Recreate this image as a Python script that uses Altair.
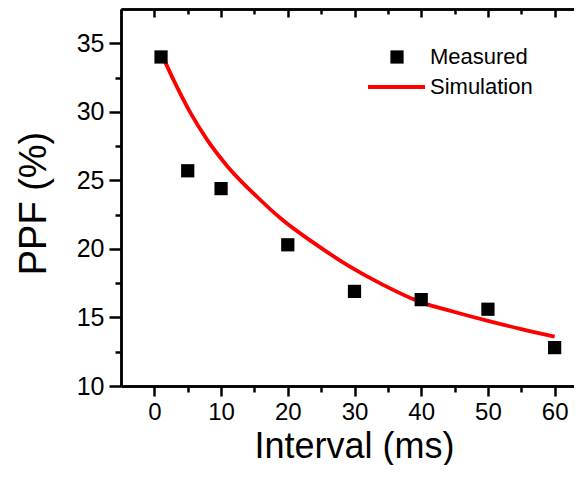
import altair as alt
import pandas as pd

# ---- data ----
interval_ms = [1, 5, 10, 20, 30, 40, 50, 60]
ppf_measured = [34.0, 25.7, 24.4, 20.3, 16.9, 16.3, 15.6, 12.8]

sim_interval = [1, 3, 5.5, 8, 11, 15.5, 19, 24, 29, 34, 40, 45, 50, 55, 60]
sim_ppf = [34.3, 32.2, 29.85, 27.9, 26.0, 23.75, 22.2, 20.4, 18.8, 17.45,
           16.1, 15.4, 14.75, 14.15, 13.6]

x_major = [0, 10, 20, 30, 40, 50, 60]
x_minor = [5, 15, 25, 35, 45, 55]
y_major = [10, 15, 20, 25, 30, 35]
y_minor = [12.5, 17.5, 22.5, 27.5, 32.5]

legend_labels = ["Measured", "Simulation"]
x_title = "Interval (ms)"
y_title = "PPF (%)"

W, H = 467, 377
FONT = "Liberation Sans"

meas = pd.DataFrame({"Interval": interval_ms, "PPF": ppf_measured})
sim = pd.DataFrame({"Interval": sim_interval, "PPF": sim_ppf})

xscale = alt.Scale(domain=[-5, 65], nice=False, zero=False)
yscale = alt.Scale(domain=[10, 37.5], nice=False, zero=False)

common = dict(grid=False, domainColor="black", domainWidth=2.5,
              tickColor="black", tickWidth=2.5)


def axis(values, orient, tick, labels=False, offset=0, **kw):
    return alt.Axis(values=values, orient=orient, tickSize=tick, labels=labels,
                    offset=offset, **common, **kw)


# Measured points with main (labelled) axes
points = alt.Chart(meas).mark_square(size=175, color="black", opacity=1).encode(
    x=alt.X("Interval:Q", scale=xscale,
            axis=axis(x_major, "bottom", 10, labels=True, labelPadding=4,
                      labelFont=FONT, labelFontSize=24, labelColor="black",
                      title=x_title, titleFont=FONT, titleFontSize=36,
                      titleFontWeight="normal", titleColor="black",
                      titleBaseline="alphabetic", titleAlign="center",
                      titleX=233, titleY=71)),
    y=alt.Y("PPF:Q", scale=yscale,
            axis=axis(y_major, "left", 12, labels=True, labelPadding=5,
                      labelFont=FONT, labelFontSize=25, labelColor="black",
                      title=y_title, titleFont=FONT, titleFontSize=38,
                      titleFontWeight="normal", titleColor="black",
                      titleAngle=270, titleBaseline="alphabetic",
                      titleAlign="center", titleX=-76, titleY=194)),
)

# Simulation line with minor ticks on bottom / left
line = alt.Chart(sim).mark_line(color="#ff0000", strokeWidth=3.8,
                                interpolate="monotone").encode(
    x=alt.X("Interval:Q", scale=xscale, title=None,
            axis=axis(x_minor, "bottom", 6)),
    y=alt.Y("PPF:Q", scale=yscale, title=None,
            axis=axis(y_minor, "left", 6)),
)

# Mirror axes (top / right) with inward ticks
mirror_major = alt.Chart(meas).mark_point(opacity=0).encode(
    x=alt.X("Interval:Q", scale=xscale, title=None,
            axis=axis(x_major, "bottom", 8, offset=-H)),
    y=alt.Y("PPF:Q", scale=yscale, title=None,
            axis=axis(y_major, "left", 12, offset=-W)),
)
mirror_minor = alt.Chart(meas).mark_point(opacity=0).encode(
    x=alt.X("Interval:Q", scale=xscale, title=None,
            axis=axis(x_minor, "bottom", 5, offset=-H)),
    y=alt.Y("PPF:Q", scale=yscale, title=None,
            axis=axis(y_minor, "left", 6, offset=-W)),
)

# Legend (manual)
leg_df = pd.DataFrame({"label": legend_labels})
leg_sq = alt.Chart(leg_df.iloc[[0]]).mark_square(size=175, color="black", opacity=1).encode(
    x=alt.value(276), y=alt.value(48))
leg_line = alt.Chart(leg_df.iloc[[1]]).mark_rule(color="#ff0000", strokeWidth=4).encode(
    x=alt.value(247), x2=alt.value(304), y=alt.value(78))
leg_t1 = alt.Chart(leg_df.iloc[[0]]).mark_text(
    align="left", baseline="middle", font=FONT, fontSize=22, color="black").encode(
    x=alt.value(309), y=alt.value(48), text="label:N")
leg_t2 = alt.Chart(leg_df.iloc[[1]]).mark_text(
    align="left", baseline="middle", font=FONT, fontSize=22, color="black").encode(
    x=alt.value(309), y=alt.value(78), text="label:N")

chart = alt.layer(
    mirror_major, mirror_minor, line, points, leg_line, leg_sq, leg_t1, leg_t2
).resolve_axis(x="independent", y="independent").properties(
    width=W, height=H,
    autosize=alt.AutoSizeParams(type="none"),
    padding={"left": 113, "top": 1, "right": -14, "bottom": 79},
    background="white",
).configure_view(stroke=None)

chart.save("out.html", embed_options={"renderer": "svg", "actions": False})
